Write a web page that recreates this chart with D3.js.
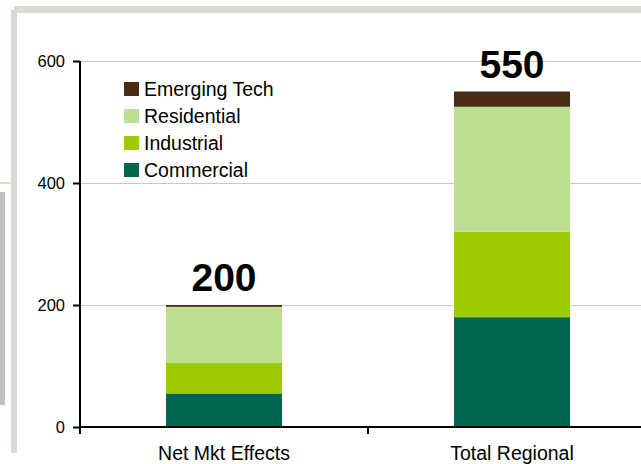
<!DOCTYPE html>
<html>
<head>
<meta charset="utf-8">
<script src="https://cdn.jsdelivr.net/npm/d3@7"></script>
<style>
  body { margin: 0; background: #fff; }
  svg { display: block; font-family: 'Liberation Sans', Arial, sans-serif; }
</style>
</head>
<body>
<div id="chart"></div>
<script>
// chart data
const categories = ['Net Mkt Effects', 'Total Regional'];
const seriesNames = ['Commercial', 'Industrial', 'Residential', 'Emerging Tech'];
const commercial = [55, 180];
const industrial = [50, 140];
const residential = [92, 205];
const emergingTech = [3, 25];
const totals = [200, 550];
const yTicks = [0, 200, 400, 600];

const colors = {
  'Commercial': '#006652',
  'Industrial': '#9dcb00',
  'Residential': '#bcdf91',
  'Emerging Tech': '#4a2c16'
};

const width = 641;
const height = 464;
const margin = { top: 61, right: 0, bottom: 37, left: 80 };

const svg = d3.select('#chart')
  .append('svg')
  .attr('width', width)
  .attr('height', height);

// slide frame bits around the chart
svg.append('rect').attr('x', 14).attr('y', 6).attr('width', width - 14).attr('height', 7).attr('fill', '#dcd9d2');
svg.append('rect').attr('x', 11).attr('y', 10).attr('width', 6).attr('height', 443).attr('fill', '#dcd9d2');
svg.append('rect').attr('x', 0).attr('y', 182).attr('width', 11).attr('height', 2).attr('fill', '#dcd9d2');
svg.append('rect').attr('x', 0).attr('y', 192).attr('width', 5).attr('height', 213).attr('fill', '#c0c0c0');

const table = categories.map((c, i) => ({
  category: c,
  'Commercial': commercial[i],
  'Industrial': industrial[i],
  'Residential': residential[i],
  'Emerging Tech': emergingTech[i],
  total: totals[i]
}));

const x = d3.scaleBand()
  .domain(categories)
  .range([margin.left, 656])
  .padding(0);

const y = d3.scaleLinear()
  .domain([0, 600])
  .range([height - margin.bottom, margin.top]);

const barWidth = x.bandwidth() * 0.403;

// gridlines
svg.append('g')
  .selectAll('line')
  .data(yTicks.filter(d => d > 0))
  .join('line')
  .attr('x1', margin.left)
  .attr('x2', width)
  .attr('y1', d => Math.round(y(d)) + 0.5)
  .attr('y2', d => Math.round(y(d)) + 0.5)
  .attr('stroke', '#c8c8c8')
  .attr('stroke-width', 1);

// stacked bars
const stack = d3.stack().keys(seriesNames)(table);

svg.append('g')
  .selectAll('g')
  .data(stack)
  .join('g')
  .attr('fill', d => colors[d.key])
  .selectAll('rect')
  .data(d => d)
  .join('rect')
  .attr('x', d => x(d.data.category) + (x.bandwidth() - barWidth) / 2)
  .attr('y', d => y(d[1]))
  .attr('width', barWidth)
  .attr('height', d => y(d[0]) - y(d[1]));

// totals above bars
svg.append('g')
  .selectAll('text')
  .data(table)
  .join('text')
  .attr('x', d => x(d.category) + x.bandwidth() / 2)
  .attr('y', d => y(d.total) - 14)
  .attr('text-anchor', 'middle')
  .attr('font-size', 39)
  .attr('font-weight', 'bold')
  .attr('fill', '#000')
  .text(d => d.total);

// y axis
const yAxis = svg.append('g')
  .attr('transform', `translate(${margin.left},0)`)
  .call(d3.axisLeft(y).tickValues(yTicks).tickSize(7).tickPadding(8).tickSizeOuter(0));
yAxis.select('.domain').attr('stroke', '#000').attr('stroke-width', 2);
yAxis.selectAll('.tick line').attr('stroke', '#000').attr('stroke-width', 2);
yAxis.selectAll('.tick text')
  .attr('font-size', 16.5)
  .attr('font-family', "'Liberation Sans', Arial, sans-serif")
  .attr('fill', '#000');
yAxis.select('.domain').attr('d', `M0,${y(0) + 7}V${y(600)}`);

// x axis: ticks sit between categories
const xAxis = svg.append('g')
  .attr('transform', `translate(0,${y(0)})`);
xAxis.append('line')
  .attr('x1', margin.left)
  .attr('x2', width)
  .attr('stroke', '#000')
  .attr('stroke-width', 2);
xAxis.selectAll('.sep')
  .data(categories.slice(1))
  .join('line')
  .attr('class', 'sep')
  .attr('x1', d => x(d))
  .attr('x2', d => x(d))
  .attr('y1', 0)
  .attr('y2', 7)
  .attr('stroke', '#000')
  .attr('stroke-width', 2);
xAxis.selectAll('text')
  .data(categories)
  .join('text')
  .attr('x', d => x(d) + x.bandwidth() / 2)
  .attr('y', 33)
  .attr('text-anchor', 'middle')
  .attr('font-size', 19.5)
  .attr('fill', '#000')
  .text(d => d);

// legend
const legend = svg.append('g')
  .attr('transform', 'translate(124,82)');
const items = legend.selectAll('g')
  .data(seriesNames.slice().reverse())
  .join('g')
  .attr('transform', (d, i) => `translate(0,${i * 27})`);
items.append('rect')
  .attr('width', 15)
  .attr('height', 14)
  .attr('fill', d => colors[d]);
items.append('text')
  .attr('x', 20)
  .attr('y', 14)
  .attr('font-size', 19.5)
  .attr('fill', '#000')
  .text(d => d);
</script>
</body>
</html>
